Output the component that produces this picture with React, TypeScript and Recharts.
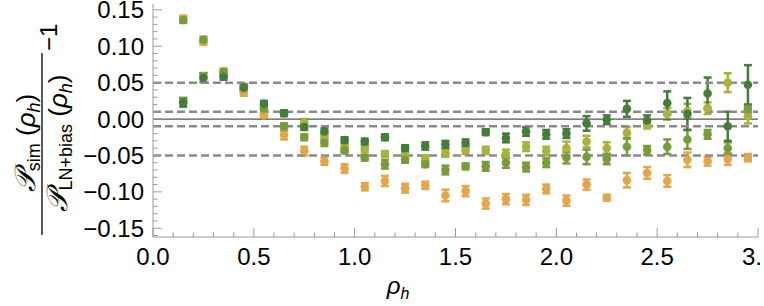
import React from 'react'
import { ScatterChart, Scatter, XAxis, YAxis, ErrorBar, ReferenceLine } from 'recharts'

// rho_h bin centres
const RHO = [0.15, 0.25, 0.35, 0.45, 0.55, 0.65, 0.75, 0.85, 0.95, 1.05, 1.15, 1.25, 1.35, 1.45, 1.55, 1.65, 1.75, 1.85, 1.95, 2.05, 2.15, 2.25, 2.35, 2.45, 2.55, 2.65, 2.75, 2.85, 2.95]

// dark green
const DG_VAL = [0.023, 0.057, 0.058, 0.043, 0.021, 0.008, -0.011, -0.017, -0.029, -0.031, -0.025, -0.04, -0.037, -0.035, -0.033, -0.018, -0.026, -0.017, -0.021, -0.02, -0.006, -0.001, 0.014, -0.002, 0.022, 0.007, 0.035, -0.01, 0.047]
const DG_ERR = [0.006, 0.006, 0.004, 0.004, 0.004, 0.004, 0.004, 0.004, 0.004, 0.004, 0.004, 0.004, 0.005, 0.005, 0.005, 0.004, 0.006, 0.006, 0.006, 0.006, 0.01, 0.006, 0.011, 0.007, 0.016, 0.022, 0.022, 0.02, 0.027]

// medium green
const MG_VAL = [0.136, 0.109, 0.065, 0.044, 0.015, -0.01, -0.025, -0.033, -0.043, -0.053, -0.062, -0.056, -0.062, -0.07, -0.065, -0.065, -0.06, -0.066, -0.06, -0.053, -0.052, -0.055, -0.038, -0.043, -0.038, -0.028, -0.021, -0.04, 0.014]
const MG_ERR = [0.004, 0.004, 0.004, 0.004, 0.004, 0.004, 0.004, 0.004, 0.004, 0.004, 0.006, 0.004, 0.004, 0.006, 0.004, 0.006, 0.007, 0.006, 0.006, 0.008, 0.01, 0.007, 0.012, 0.006, 0.01, 0.013, 0.006, 0.008, 0.005]

// yellow green
const YG_VAL = [0.024, 0.059, 0.062, 0.041, 0.013, -0.012, -0.004, -0.024, -0.04, -0.041, -0.048, -0.049, -0.054, -0.047, -0.043, -0.043, -0.048, -0.038, -0.044, -0.04, -0.031, -0.04, -0.019, -0.007, 0.007, 0.011, 0.015, 0.05, 0.004]
const YG_ERR = [0.004, 0.004, 0.004, 0.004, 0.004, 0.004, 0.004, 0.004, 0.004, 0.004, 0.004, 0.004, 0.004, 0.005, 0.005, 0.005, 0.006, 0.006, 0.006, 0.009, 0.008, 0.008, 0.008, 0.006, 0.008, 0.01, 0.008, 0.013, 0.01]

// orange
const OR_VAL = [0.138, 0.106, 0.062, 0.036, 0.005, -0.022, -0.044, -0.058, -0.068, -0.093, -0.085, -0.095, -0.091, -0.105, -0.099, -0.116, -0.11, -0.111, -0.096, -0.112, -0.09, -0.108, -0.084, -0.074, -0.085, -0.056, -0.058, -0.055, -0.053]
const OR_ERR = [0.004, 0.004, 0.004, 0.004, 0.004, 0.006, 0.006, 0.005, 0.006, 0.005, 0.007, 0.006, 0.005, 0.008, 0.007, 0.007, 0.007, 0.007, 0.006, 0.007, 0.007, 0.004, 0.01, 0.008, 0.008, 0.01, 0.006, 0.008, 0.005]

const X_MAJOR = [0, 0.5, 1, 1.5, 2, 2.5, 3]
const X_LABELS = ['0.0', '0.5', '1.0', '1.5', '2.0', '2.5', '3.']
const Y_MAJOR = [-0.15, -0.1, -0.05, 0, 0.05, 0.1, 0.15]
const Y_LABELS = ['\u22120.15', '\u22120.10', '\u22120.05', '0.00', '0.05', '0.10', '0.15']
const DASHED_LEVELS = [0.05, 0.01, -0.01, -0.05]

// minor tick grids (0.1 on x, 0.01 on y)
const X_TICKS = Array.from({ length: 31 }, (_, i) => i / 10)
const Y_TICKS = Array.from({ length: 32 }, (_, i) => (i - 16) / 100)

const FRAME = '#9a9a9a'
const FONT = '"Liberation Sans", Arial, sans-serif'
const TICK_FONT = 24

const SERIES = [
  { name: 'or', color: '#e2a64c', vals: OR_VAL, errs: OR_ERR },
  { name: 'yg', color: '#aab23f', vals: YG_VAL, errs: YG_ERR },
  { name: 'mg', color: '#7a9b3d', vals: MG_VAL, errs: MG_ERR },
  { name: 'dg', color: '#467b3c', vals: DG_VAL, errs: DG_ERR },
]

const findIdx = (list: number[], v: number) => list.findIndex((m) => Math.abs(m - v) < 1e-6)

function BottomTick({ x, y, payload }: any) {
  const idx = findIdx(X_MAJOR, payload.value)
  const last = idx === X_MAJOR.length - 1
  return (
    <g>
      <line x1={x} x2={x} y1={y} y2={y - (idx >= 0 ? 9 : 4.5)} stroke={FRAME} strokeWidth={1} />
      {idx >= 0 && (
        <text
          x={last ? x + 4 : x}
          y={y + 28}
          textAnchor={last ? 'end' : 'middle'}
          fontFamily={FONT}
          fontSize={TICK_FONT}
          fill="#000"
        >
          {X_LABELS[idx]}
        </text>
      )}
    </g>
  )
}

function TopTick({ x, y, payload }: any) {
  const major = findIdx(X_MAJOR, payload.value) >= 0
  return <line x1={x} x2={x} y1={y} y2={y + (major ? 9 : 4.5)} stroke={FRAME} strokeWidth={1} />
}

function LeftTick({ x, y, payload }: any) {
  const idx = findIdx(Y_MAJOR, payload.value)
  return (
    <g>
      <line x1={x} x2={x + (idx >= 0 ? 9 : 4.5)} y1={y} y2={y} stroke={FRAME} strokeWidth={1} />
      {idx >= 0 && (
        <text x={x - 9} y={y + 8.5} textAnchor="end" fontFamily={FONT} fontSize={TICK_FONT} fill="#000">
          {Y_LABELS[idx]}
        </text>
      )}
    </g>
  )
}

function RightTick({ x, y, payload }: any) {
  const major = findIdx(Y_MAJOR, payload.value) >= 0
  return <line x1={x} x2={x - (major ? 9 : 4.5)} y1={y} y2={y} stroke={FRAME} strokeWidth={1} />
}

function Dot({ cx, cy, fill }: any) {
  return <circle cx={cx} cy={cy} r={4.3} fill={fill} />
}

function AxisTitles() {
  const sub = { fontSize: 18 }
  return (
    <svg width={764} height={306} style={{ position: 'absolute', left: 0, top: 0, pointerEvents: 'none' }}>
      <g transform="translate(42,143) rotate(-90)" fontFamily={FONT} fontSize={26} fill="#000">
        <text x={0} y={-7} textAnchor="middle">
          <tspan fontStyle="italic" fontSize={29}>𝒫</tspan>
          <tspan style={sub} dy={5}>sim</tspan>
          <tspan dy={-5}> (</tspan>
          <tspan fontStyle="italic">ρ</tspan>
          <tspan fontStyle="italic" style={sub} dy={5}>h</tspan>
          <tspan dy={-5}>)</tspan>
        </text>
        <line x1={-92} x2={90} y1={0} y2={0} stroke="#000" strokeWidth={1.3} />
        <text x={0} y={25} textAnchor="middle">
          <tspan fontStyle="italic" fontSize={29}>𝒫</tspan>
          <tspan style={sub} dy={5}>LN+bias</tspan>
          <tspan dy={-5}> (</tspan>
          <tspan fontStyle="italic">ρ</tspan>
          <tspan fontStyle="italic" style={sub} dy={5}>h</tspan>
          <tspan dy={-5}>)</tspan>
        </text>
        <text x={92} y={15} fontSize={24}>{'\u22121'}</text>
      </g>
      <text x={398} y={294} textAnchor="middle" fontFamily={FONT} fontSize={24} fill="#000">
        <tspan fontStyle="italic">ρ</tspan>
        <tspan fontStyle="italic" fontSize={16} dy={5}>h</tspan>
      </text>
    </svg>
  )
}

export default function App() {
  return (
    <div style={{ position: 'absolute', left: 0, top: 0, width: 764, height: 306, background: '#fff' }}>
      <ScatterChart width={764} height={306} margin={{ top: 4, right: 6, bottom: 0, left: 0 }}>
        <XAxis
          type="number"
          dataKey="x"
          domain={[0, 3]}
          ticks={X_TICKS}
          interval={0}
          allowDataOverflow
          height={69}
          tickSize={0}
          tickMargin={0}
          stroke={FRAME}
          tick={<BottomTick />}
        />
        <XAxis
          xAxisId="top"
          orientation="top"
          type="number"
          dataKey="x"
          domain={[0, 3]}
          ticks={X_TICKS}
          interval={0}
          allowDataOverflow
          height={0}
          tickSize={0}
          tickMargin={0}
          stroke={FRAME}
          tick={<TopTick />}
        />
        <YAxis
          type="number"
          dataKey="y"
          domain={[-0.162, 0.158]}
          ticks={Y_TICKS}
          interval={0}
          allowDataOverflow
          width={153}
          tickSize={0}
          tickMargin={0}
          stroke={FRAME}
          tick={<LeftTick />}
        />
        <YAxis
          yAxisId="right"
          orientation="right"
          type="number"
          dataKey="y"
          domain={[-0.162, 0.158]}
          ticks={Y_TICKS}
          interval={0}
          allowDataOverflow
          width={0}
          tickSize={0}
          tickMargin={0}
          stroke={FRAME}
          tick={<RightTick />}
        />
        {SERIES.map((s) => (
          <Scatter
            key={s.name}
            data={RHO.map((x, i) => ({ x, y: s.vals[i], e: s.errs[i] }))}
            fill={s.color}
            shape={<Dot />}
            isAnimationActive={false}
          >
            <ErrorBar dataKey="e" direction="y" width={4} stroke={s.color} strokeWidth={2.5} />
          </Scatter>
        ))}
        {DASHED_LEVELS.map((v) => (
          <ReferenceLine key={v} y={v} stroke="#8a8a8a" strokeWidth={2.5} strokeDasharray="8 4" />
        ))}
        <ReferenceLine y={0} stroke="#555" strokeWidth={1.3} />
      </ScatterChart>
      <AxisTitles />
    </div>
  )
}
